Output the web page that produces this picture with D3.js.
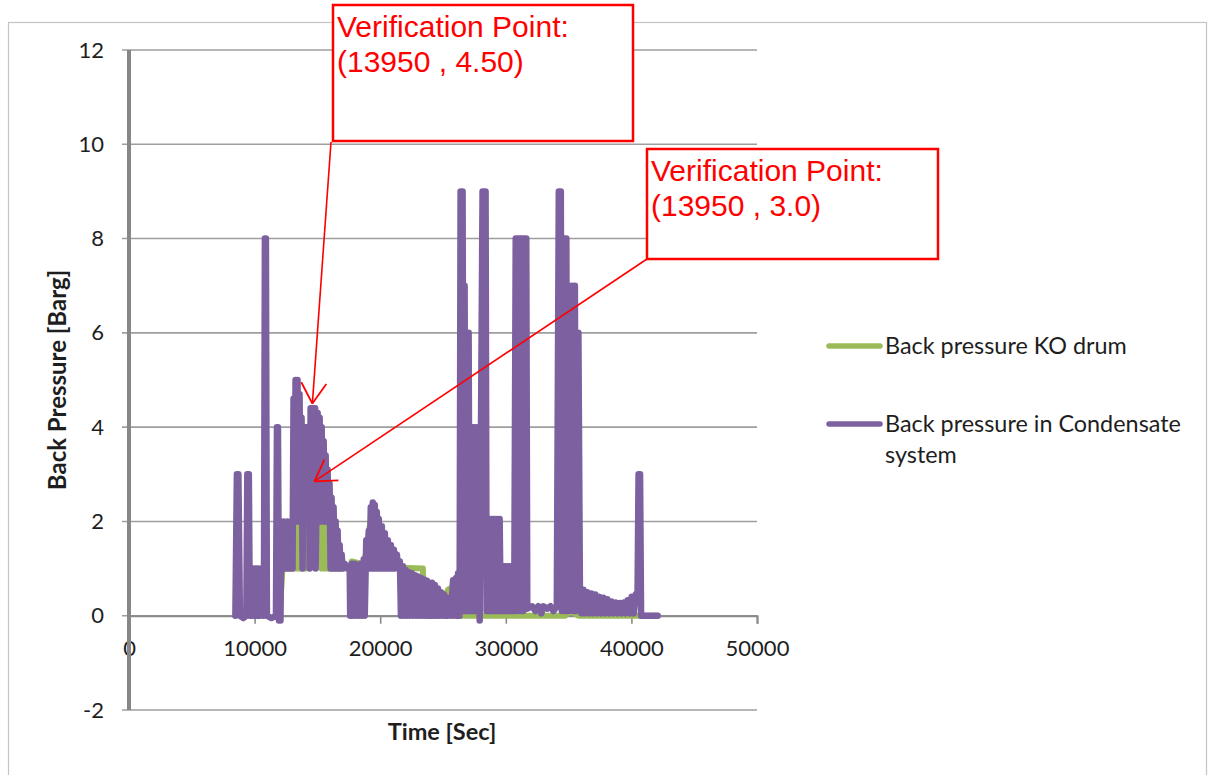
<!DOCTYPE html>
<html>
<head>
<meta charset="utf-8">
<script src="https://cdn.jsdelivr.net/npm/d3@7"></script>
<style>
  body { margin: 0; background: #fff; }
</style>
</head>
<body>
<div id="chart"></div>
<script>
// [time (s), back pressure (barg)]
const koDrum = [
  [11980,0],[12220,1.0],[13100,1.0],[13180,2.0],[13260,1.0],[13420,2.0],[13500,1.0],[13660,2.9],[13740,1.0],
  [13820,3.0],[13900,1.0],[13980,2.8],[14060,1.0],[14140,2.8],[14220,2.0],[14300,2.8],[14380,2.0],[14460,2.8],
  [14540,2.0],[14620,2.8],[14700,2.0],[14780,2.8],[14860,2.0],[14940,2.8],[15020,2.0],[15100,2.8],[15180,2.8],
  [15260,2.0],[15340,1.0],[15500,2.0],[15580,1.0],[15730,2.0],[15810,1.0],[15970,2.0],[16050,1.0],[16210,2.0],
  [16290,1.0],[16450,2.0],[16530,1.0],[17570,1.0],[17730,1.15],[18530,1.1],[18690,1.0],[19010,1.6],[19330,2.2],
  [19810,2.0],[20210,1.6],[20770,1.35],[21330,1.1],[21570,1.02],[23400,1.0],[23480,0],[24760,0],[25000,0.3],
  [25400,0.55],[25720,0.6],[25960,0.1],[26200,0],[34740,0],[35140,0.12],[35460,0.05],[35780,0],[42090,0]
];

const condensate = [
  [8470,0],[8590,3.0],[8710,3.0],[8830,0],[9110,-0.05],[9340,0],[9420,3.0],[9540,3.0],[9620,0],[9700,1.0],
  [9780,0],[9860,1.0],[9940,0],[10020,1.0],[10100,0],[10180,1.0],[10260,0],[10340,1.0],[10420,0],[10500,1.0],
  [10580,1.0],[10660,0],[10740,0],[10820,8.0],[10900,8.0],[10980,0],[11340,-0.05],[11700,0],[11780,4.0],
  [11860,4.0],[11940,-0.1],[12060,-0.1],[12140,2.0],[12220,1.0],[12300,2.0],[12380,1.0],[12460,1.95],[12540,1.0],
  [12620,2.0],[12700,1.0],[12780,1.95],[12860,1.0],[12940,2.0],[13020,1.0],[13100,4.6],[13180,2.0],[13260,5.0],
  [13340,2.0],[13420,5.0],[13500,2.0],[13580,4.7],[13660,2.0],[13740,4.2],[13820,1.0],[13900,4.0],[14340,4.0],
  [14380,1.0],[14460,4.4],[14820,4.4],[14860,1.0],[15020,4.3],[15100,2.0],[15180,4.2],
  [15260,2.0],[15340,4.0],[15420,2.0],[15500,3.7],[15580,2.0],[15660,3.4],[15730,2.0],[15810,3.1],[15890,2.0],
  [15970,2.8],[16050,1.0],[16130,2.5],[16210,1.0],[16290,2.3],[16370,1.0],[16450,2.0],[16530,1.0],[16610,1.8],
  [16690,1.0],[16770,1.5],[16850,1.0],[16930,1.3],[17010,1.0],[17170,1.1],[17410,1.0],[17570,1.0],[17610,0],
  [17730,1.1],[17810,0],[17970,1.1],[18050,0],[18210,1.0],[18290,0],[18450,1.1],[18530,0],[18690,1.2],[18770,0],
  [18890,1.6],[18970,1.0],[19090,1.8],[19170,1.0],[19250,2.3],[19330,1.0],[19410,2.4],[19490,1.0],[19570,2.35],
  [19650,1.0],[19730,2.2],[19810,1.0],[19890,2.05],[19970,1.0],[20130,1.9],[20210,1.0],[20370,1.75],[20450,1.0],
  [20610,1.6],[20690,1.0],[20850,1.5],[20930,1.0],[21090,1.4],[21170,1.0],[21330,1.3],[21410,1.0],[21570,1.15],
  [21650,0],[21810,1.05],[21880,0],[22040,0.97],[22120,0],[22280,0.92],[22360,0],[22520,0.9],[22600,0],
  [22760,0.86],[22840,0],[23000,0.83],[23080,0],[23240,0.8],[23320,0],[23480,0.77],[23560,0],[23720,0.74],
  [23800,0],[24040,0],[24120,0.7],[24200,0],[24360,0.65],[24440,0],[24600,0.58],[24680,0],[24840,0.5],[24920,0],
  [25080,0.45],[25160,0],[25320,0.38],[25400,0],[25560,0.33],[25640,0],[25800,0.75],[25880,0],[26040,0.8],
  [26120,0],[26200,0.9],[26320,0],[26400,9.0],[26560,9.0],[26640,0.1],[26720,7.0],[26800,0.1],[26880,6.0],
  [26960,0.1],[27040,6.0],[27120,0.1],[27200,4.0],[27280,0.1],[27360,4.0],[27440,0.1],[27520,4.0],[27600,0.1],
  [27680,4.0],[27760,0.1],[27840,3.0],[27920,-0.1],[28000,3.0],[28150,9.0],[28390,9.0],[28470,0.1],[28550,2.05],
  [28630,0.1],[28710,2.05],[28790,0.1],[28870,2.05],[28950,0.1],[29030,2.05],[29110,0.1],[29190,2.05],[29270,0.1],
  [29350,2.05],[29430,0.1],[29510,2.05],[29590,0.1],[29670,1.05],[29750,0.1],[29830,1.05],[29910,0.1],[29990,1.05],
  [30070,0.1],[30150,1.05],[30230,0.1],[30310,1.05],[30390,0.1],[30470,1.05],[30550,0.1],[30630,1.05],[30670,0.1],
  [30790,8.0],[30910,0.1],[31030,8.0],[31150,0.1],[31270,8.0],[31390,0.1],[31510,8.0],[31630,8.0],[31710,0.15],
  [32110,0.2],[32350,0.1],[32590,0.2],[32830,0.05],[32990,0.2],[33310,0.15],[33550,0.2],[33790,0.1],[34060,0.2],
  [34220,9.0],[34380,9.0],[34460,0.1],[34580,8.0],[34700,0.1],[34820,8.0],[34900,0.1],[35020,7.0],[35140,0.1],
  [35260,7.0],[35380,0.1],[35500,7.0],[35580,0.1],[35660,6.0],[35780,6.0],[35900,0.55],[36020,0.05],[36180,0.55],
  [36340,0.05],[36500,0.5],[36660,0.05],[36820,0.47],[36980,0.05],[37140,0.45],[37300,0.05],[37460,0.4],
  [37620,0.05],[37780,0.38],[37940,0.05],[38100,0.35],[38260,0.05],[38420,0.3],[38580,0.05],[38740,0.28],
  [38900,0.05],[39060,0.27],[39220,0.05],[39380,0.28],[39540,0.05],[39700,0.33],[39860,0.05],[40020,0.4],
  [40180,0.05],[40330,0.45],[40490,0.5],[40570,3.0],[40690,3.0],[40770,0],[42090,0]
];

const seriesNames = ["Back pressure KO drum", "Back pressure in Condensate", "system"];
const seriesColors = ["#9bbb59", "#7d60a0"];
const xTicks = [0, 10000, 20000, 30000, 40000, 50000];
const yTicks = [-2, 0, 2, 4, 6, 8, 10, 12];
const noteLines = [["Verification Point:", "(13950 , 4.50)"], ["Verification Point:", "(13950 , 3.0)"]];
const noteTips = [[14600, 4.5], [14760, 2.85]];

const W = 1210, H = 775;
const labelFont = "Lato, 'Open Sans', sans-serif";
const svg = d3.select("#chart").append("svg")
  .attr("width", W).attr("height", H)
  .style("font-family", labelFont);

// outer chart frame
svg.append("rect")
  .attr("x", 8.5).attr("y", 22.5).attr("width", 1198).attr("height", 800)
  .attr("fill", "none").attr("stroke", "#c4c4c4").attr("stroke-width", 1.2);

const x = d3.scaleLinear().domain([0, 50000]).range([129, 757]);
const y = d3.scaleLinear().domain([-2, 12]).range([710, 50]);

// horizontal gridlines (with small outward tick)
svg.append("g").selectAll("line")
  .data(yTicks)
  .join("line")
    .attr("x1", x(0) - 7).attr("x2", x(50000))
    .attr("y1", d => y(d)).attr("y2", d => y(d))
    .attr("stroke", "#9e9e9e").attr("stroke-width", 1.6);

// y axis labels
const yAxis = svg.append("g")
  .attr("transform", `translate(${x(0)},0)`)
  .call(d3.axisLeft(y).tickValues(yTicks).tickSize(7).tickPadding(18).tickFormat(d => String(d)));
yAxis.select(".domain").remove();
yAxis.selectAll("line").remove();
yAxis.selectAll("text").attr("font-size", 22).style("font-family", labelFont).attr("fill", "#1e1e1e");

// x axis at y = 0
const xAxis = svg.append("g")
  .attr("transform", `translate(0,${y(0)})`)
  .call(d3.axisBottom(x).tickValues(xTicks).tickSize(8).tickPadding(17).tickFormat(d => String(d)));
xAxis.select(".domain").attr("stroke", "#8a8a8a").attr("stroke-width", 2);
xAxis.selectAll("line").attr("stroke", "#8a8a8a").attr("stroke-width", 1.6);
xAxis.selectAll("text").attr("font-size", 22).style("font-family", labelFont).attr("fill", "#1e1e1e");

// vertical axis line
svg.append("line")
  .attr("x1", x(0)).attr("x2", x(0))
  .attr("y1", y(12)).attr("y2", y(-2))
  .attr("stroke", "#878787").attr("stroke-width", 4);

// axis titles
svg.append("text")
  .attr("x", x(25000) - 1).attr("y", 740)
  .attr("text-anchor", "middle").attr("font-size", 23.5).attr("font-weight", "bold")
  .attr("fill", "#1e1e1e").text("Time [Sec]");
svg.append("text")
  .attr("transform", `translate(66,${y(5)}) rotate(-90)`)
  .attr("text-anchor", "middle").attr("font-size", 24).attr("font-weight", "bold")
  .attr("fill", "#1e1e1e").text("Back Pressure [Barg]");

// series
const line = d3.line().x(d => x(d[0])).y(d => y(d[1]));
[koDrum, condensate].forEach((s, i) => {
  svg.append("path")
    .datum(s)
    .attr("d", line)
    .attr("fill", "none")
    .attr("stroke", seriesColors[i])
    .attr("stroke-width", i ? 6.5 : 6)
    .attr("stroke-linejoin", "round")
    .attr("stroke-linecap", "round");
});

// legend
const legendY = [346, 424];
legendY.forEach((ly, i) => {
  svg.append("line")
    .attr("x1", 829).attr("x2", 880).attr("y1", ly).attr("y2", ly)
    .attr("stroke", seriesColors[i]).attr("stroke-width", 5.5).attr("stroke-linecap", "round");
});
[354, 432, 463].forEach((ty, i) => {
  svg.append("text").attr("x", 885).attr("y", ty)
    .attr("font-size", 23.4).attr("fill", "#1e1e1e").text(seriesNames[i]);
});

// verification callouts
const boxes = [
  { x: 333, y: 5, w: 300, h: 136, from: [331, 142] },
  { x: 647, y: 149, w: 291, h: 110, from: [647, 259] }
];
boxes.forEach((b, i) => {
  const tx = x(noteTips[i][0]), ty = y(noteTips[i][1]);
  const [fx, fy] = b.from;
  svg.append("line")
    .attr("x1", fx).attr("y1", fy).attr("x2", tx).attr("y2", ty)
    .attr("stroke", "#ff0000").attr("stroke-width", 1.6);
  const ang = Math.atan2(fy - ty, fx - tx);
  [-0.55, 0.55].forEach(da => {
    svg.append("line")
      .attr("x1", tx).attr("y1", ty)
      .attr("x2", tx + 24 * Math.cos(ang + da)).attr("y2", ty + 24 * Math.sin(ang + da))
      .attr("stroke", "#ff0000").attr("stroke-width", 1.8);
  });
  svg.append("rect")
    .attr("x", b.x).attr("y", b.y).attr("width", b.w).attr("height", b.h)
    .attr("fill", "#fff").attr("stroke", "#ff0000").attr("stroke-width", 2.5);
  noteLines[i].forEach((t, j) => {
    svg.append("text")
      .attr("x", b.x + 4).attr("y", b.y + 32 + j * 35)
      .style("font-family", "'Liberation Sans', Arial, sans-serif")
      .attr("font-size", 30).attr("fill", "#ff0000").text(t);
  });
});
</script>
</body>
</html>
